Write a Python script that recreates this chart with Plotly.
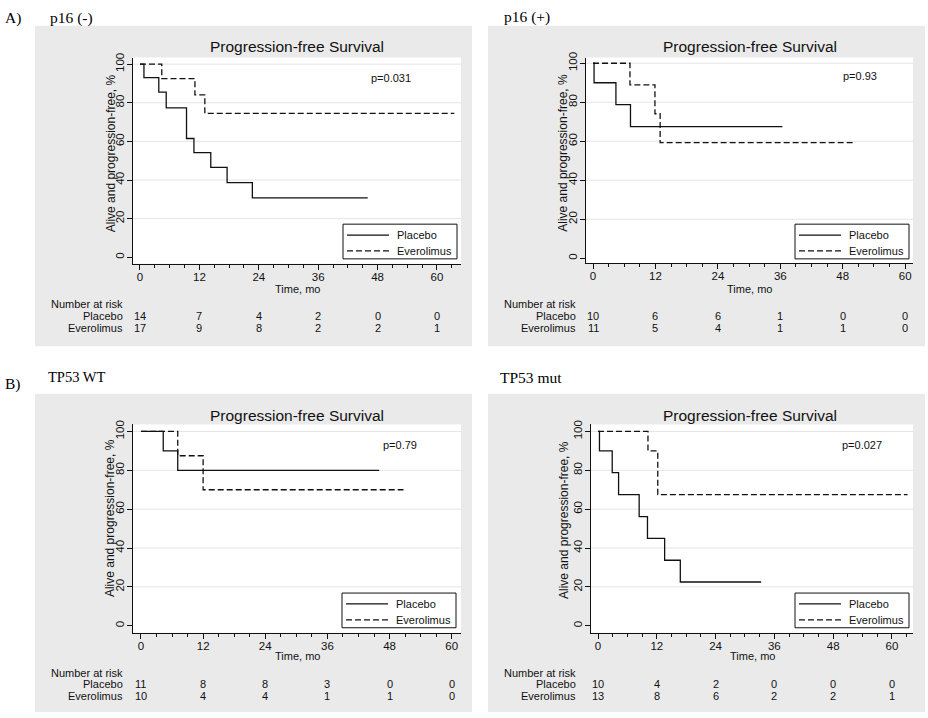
import plotly.graph_objects as go

W, H = 928, 718

# ---------------- data ----------------
tick_months = [0, 12, 24, 36, 48, 60]
y_ticks = [0, 20, 40, 60, 80, 100]
arms = ["Placebo", "Everolimus"]

# Panel A left: p16 (-)
p16neg_placebo_t = [0, 0.8, 3.8, 5.3, 9.4, 10.9, 14.3, 17.6, 22.7, 46.0]
p16neg_placebo_s = [100, 93.0, 85.5, 77.4, 61.5, 54.2, 46.5, 38.6, 30.8, 30.8]
p16neg_everolimus_t = [0, 4.4, 11.1, 13.1, 63.5]
p16neg_everolimus_s = [100, 92.5, 84.1, 74.5, 74.5]
p16neg_risk_placebo = [14, 7, 4, 2, 0, 0]
p16neg_risk_everolimus = [17, 9, 8, 2, 2, 1]
p16neg_p = "p=0.031"

# Panel A right: p16 (+)
p16pos_placebo_t = [0, 0.2, 4.4, 7.2, 36.4]
p16pos_placebo_s = [100, 90.0, 78.8, 67.5, 67.5]
p16pos_everolimus_t = [0, 7.1, 11.9, 12.9, 50.4]
p16pos_everolimus_s = [100, 88.9, 74.1, 59.3, 59.3]
p16pos_risk_placebo = [10, 6, 6, 1, 0, 0]
p16pos_risk_everolimus = [11, 5, 4, 1, 1, 0]
p16pos_p = "p=0.93"

# Panel B left: TP53 WT
tp53wt_placebo_t = [0, 4.3, 7.1, 46.0]
tp53wt_placebo_s = [100, 90.0, 80.0, 80.0]
tp53wt_everolimus_t = [0, 7.1, 12.0, 50.7]
tp53wt_everolimus_s = [100, 87.5, 70.0, 70.0]
tp53wt_risk_placebo = [11, 8, 8, 3, 0, 0]
tp53wt_risk_everolimus = [10, 4, 4, 1, 1, 0]
tp53wt_p = "p=0.79"

# Panel B right: TP53 mut
tp53mut_placebo_t = [0, 0.3, 2.9, 4.2, 8.4, 10.1, 13.6, 16.8, 33.3]
tp53mut_placebo_s = [100, 90.0, 78.8, 67.5, 56.2, 45.0, 33.7, 22.5, 22.5]
tp53mut_everolimus_t = [0, 10.2, 12.2, 63.2]
tp53mut_everolimus_s = [100, 90.0, 67.5, 67.5]
tp53mut_risk_placebo = [10, 4, 2, 0, 0, 0]
tp53mut_risk_everolimus = [13, 8, 6, 2, 2, 1]
tp53mut_p = "p=0.027"

panel_titles = ["p16 (-)", "p16 (+)", "TP53 WT", "TP53 mut"]
section_labels = ["A)", "B)"]
plot_title = "Progression-free Survival"
y_title = "Alive and progression-free, %"
x_title = "Time, mo"
risk_title = "Number at risk"

# ---------------- layout geometry (pixels) ----------------
def px(x):
    return x / W

def py(y):
    return 1 - y / H

SANS = "Liberation Sans, Arial, sans-serif"
SERIF = "Liberation Serif, Times New Roman, serif"
INK = "#111111"
GRAY = "#eaeaea"
DASH = "6px,3px"

panels = [
    dict(pl=(p16neg_placebo_t, p16neg_placebo_s), ev=(p16neg_everolimus_t, p16neg_everolimus_s),
         rp=p16neg_risk_placebo, re=p16neg_risk_everolimus, p=p16neg_p, pxy=(46.3, 93.0),
         bg=(35, 472, 20, 343), dom_x=(133, 461), dom_y=(52, 260),
         xr=(-1.41, 64.85), yr=(-3.4, 103.4),
         title_xy=(297, 40.7), ytitle_xy=(111, 148.5), xtitle_xy=(297, 285),
         risk_right=124.5, risk_rows=(300.7, 312.7, 325.0),
         legend_box=(343, 220)),
    dict(pl=(p16pos_placebo_t, p16pos_placebo_s), ev=(p16pos_everolimus_t, p16pos_everolimus_s),
         rp=p16pos_risk_placebo, re=p16pos_risk_everolimus, p=p16pos_p, pxy=(47.7, 93.7),
         bg=(488, 925, 20, 343), dom_x=(586, 913), dom_y=(52, 259.5),
         xr=(-1.35, 61.5), yr=(-2.6, 102.9),
         title_xy=(749.5, 40.7), ytitle_xy=(563, 148), xtitle_xy=(749, 285),
         risk_right=578, risk_rows=(300.7, 312.7, 325.0),
         legend_box=(795, 220)),
    dict(pl=(tp53wt_placebo_t, tp53wt_placebo_s), ev=(tp53wt_everolimus_t, tp53wt_everolimus_s),
         rp=tp53wt_risk_placebo, re=tp53wt_risk_everolimus, p=tp53wt_p, pxy=(46.3, 93.0),
         bg=(35, 472, 391, 712), dom_x=(133, 461), dom_y=(422, 632),
         xr=(-1.54, 61.8), yr=(-3.6, 103.6),
         title_xy=(297, 413.4), ytitle_xy=(110.7, 516.7), xtitle_xy=(297, 655),
         risk_right=124.5, risk_rows=(672.3, 684.0, 695.7),
         legend_box=(342, 592)),
    dict(pl=(tp53mut_placebo_t, tp53mut_placebo_s), ev=(tp53mut_everolimus_t, tp53mut_everolimus_s),
         rp=tp53mut_risk_placebo, re=tp53mut_risk_everolimus, p=tp53mut_p, pxy=(49.3, 93.0),
         bg=(488, 925, 391, 712), dom_x=(591, 913), dom_y=(422, 632),
         xr=(-1.43, 64.3), yr=(-3.6, 103.6),
         title_xy=(749.7, 413.4), ytitle_xy=(563.3, 518), xtitle_xy=(752, 655),
         risk_right=578, risk_rows=(672.3, 684.0, 695.7),
         legend_box=(795, 592)),
]

LEG_W, LEG_H = 114, 35
LEG_LINE = (4, 46)
LEG_TEXT_X = 52
LEG_ROWS = (11, 27)

fig = go.Figure()
shapes = []
annotations = []
layout_extra = {}

# gray panel backgrounds and white plot areas
for P in panels:
    x0, x1, y0, y1 = P["bg"]
    shapes.append(dict(type="rect", xref="paper", yref="paper", x0=px(x0), x1=px(x1),
                       y0=py(y1), y1=py(y0), fillcolor=GRAY, line=dict(width=0), layer="below"))
for P in panels:
    shapes.append(dict(type="rect", xref="paper", yref="paper", x0=px(P["dom_x"][0]), x1=px(P["dom_x"][1]),
                       y0=py(P["dom_y"][1]), y1=py(P["dom_y"][0]), fillcolor="white",
                       line=dict(width=0), layer="below"))

for i, P in enumerate(panels):
    n = i + 1
    sfx = "" if n == 1 else str(n)
    xa, ya = "x" + sfx, "y" + sfx

    # grid lines
    for v in y_ticks[1:]:
        shapes.append(dict(type="line", xref=f"{xa} domain", yref=ya, x0=0, x1=1, y0=v, y1=v,
                           line=dict(color="#e4e4e4", width=1), layer="below"))

    for arm, (t, s), dash in zip(arms, [P["pl"], P["ev"]], ["solid", DASH]):
        fig.add_trace(go.Scatter(
            x=t, y=s, mode="lines", line=dict(color=INK, width=1.3, dash=dash, shape="hv"),
            name=arm, xaxis=xa, yaxis=ya, showlegend=False, hoverinfo="skip"))

    layout_extra["xaxis" + sfx] = dict(
        domain=[px(P["dom_x"][0]), px(P["dom_x"][1])], anchor=ya, range=list(P["xr"]),
        tickmode="array", tickvals=tick_months, ticktext=[str(v) for v in tick_months],
        ticks="outside", ticklen=5, tickwidth=1, tickcolor=INK, ticklabelstandoff=-3,
        minor=dict(tickmode="linear", tick0=0, dtick=3, ticks="outside", ticklen=3, tickcolor=INK, showgrid=False),
        showline=True, linecolor=INK, linewidth=1, showgrid=False, zeroline=False,
        tickfont=dict(family=SANS, size=11.5, color=INK), fixedrange=True)
    layout_extra["yaxis" + sfx] = dict(
        domain=[py(P["dom_y"][1]), py(P["dom_y"][0])], anchor=xa, range=list(P["yr"]),
        tickmode="array", tickvals=y_ticks, ticktext=[str(v) for v in y_ticks], tickangle=-90,
        ticks="outside", ticklen=5, tickwidth=1, tickcolor=INK, ticklabelstandoff=-2,
        showline=True, linecolor=INK, linewidth=1, showgrid=False, zeroline=False,
        tickfont=dict(family=SANS, size=11.5, color=INK), fixedrange=True)

    # legend box (drawn as a framed key)
    lx, ly = P["legend_box"]
    shapes.append(dict(type="rect", xref="paper", yref="paper", x0=px(lx), x1=px(lx + LEG_W),
                       y0=py(ly + LEG_H), y1=py(ly), fillcolor="white",
                       line=dict(color=INK, width=1), layer="above"))
    for arm, dash, ry in zip(arms, ["solid", DASH], LEG_ROWS):
        shapes.append(dict(type="line", xref="paper", yref="paper",
                           x0=px(lx + LEG_LINE[0]), x1=px(lx + LEG_LINE[1]),
                           y0=py(ly + ry), y1=py(ly + ry),
                           line=dict(color=INK, width=1.3, dash=dash), layer="above"))
        annotations.append(dict(text=arm, x=px(lx + LEG_TEXT_X), y=py(ly + ry), xref="paper", yref="paper",
                                showarrow=False, xanchor="left", yanchor="middle",
                                font=dict(family=SANS, size=11, color=INK)))

    # titles
    tx, ty = P["title_xy"]
    annotations.append(dict(text=plot_title, x=px(tx), y=py(ty), xref="paper", yref="paper",
                            showarrow=False, xanchor="center", yanchor="middle",
                            font=dict(family=SANS, size=15.5, color=INK)))
    yx, yy = P["ytitle_xy"]
    annotations.append(dict(text=y_title, x=px(yx), y=py(yy), xref="paper", yref="paper",
                            showarrow=False, xanchor="center", yanchor="middle", textangle=-90,
                            font=dict(family=SANS, size=12, color=INK)))
    xx, xy = P["xtitle_xy"]
    annotations.append(dict(text=x_title, x=px(xx), y=py(xy), xref="paper", yref="paper",
                            showarrow=False, xanchor="center", yanchor="middle",
                            font=dict(family=SANS, size=11, color=INK)))
    # p-value
    annotations.append(dict(text=P["p"], x=P["pxy"][0], y=P["pxy"][1], xref=xa, yref=ya,
                            showarrow=False, xanchor="left", yanchor="middle",
                            font=dict(family=SANS, size=11, color=INK)))
    # number at risk table
    rr = P["risk_right"]
    r0, r1, r2 = P["risk_rows"]
    for label, ry in zip([risk_title] + arms, [r0, r1, r2]):
        annotations.append(dict(text=label, x=px(rr), y=py(ry), xref="paper", yref="paper",
                                showarrow=False, xanchor="right", yanchor="middle",
                                font=dict(family=SANS, size=11, color=INK)))
    for vals, ry in zip([P["rp"], P["re"]], [r1, r2]):
        for t, v in zip(tick_months, vals):
            annotations.append(dict(text=str(v), x=t, y=py(ry), xref=xa, yref="paper",
                                    showarrow=False, xanchor="center", yanchor="middle",
                                    font=dict(family=SANS, size=11, color=INK)))

# panel headings
heading_pos = [(48, 12, 15.5), (502, 11, 15.5), (46, 374, 14.5), (498, 375, 15.5)]
for text, (hx, hy, fs) in zip(panel_titles, heading_pos):
    annotations.append(dict(text=text, x=px(hx), y=py(hy), xref="paper", yref="paper",
                            showarrow=False, xanchor="left", yanchor="middle",
                            font=dict(family=SERIF, size=fs, color="#000000")))
for text, (hx, hy) in zip(section_labels, [(3, 12), (3, 381)]):
    annotations.append(dict(text=text, x=px(hx), y=py(hy), xref="paper", yref="paper",
                            showarrow=False, xanchor="left", yanchor="middle",
                            font=dict(family=SERIF, size=15.5, color="#000000")))

fig.update_layout(
    width=W, height=H, margin=dict(l=0, r=0, t=0, b=0, pad=0),
    paper_bgcolor="white", plot_bgcolor="rgba(0,0,0,0)",
    shapes=shapes, annotations=annotations, showlegend=False,
    **layout_extra)

fig.write_html("out.html", config={"displayModeBar": False},
               post_script="document.body.style.margin='0';document.body.style.padding='0';")
